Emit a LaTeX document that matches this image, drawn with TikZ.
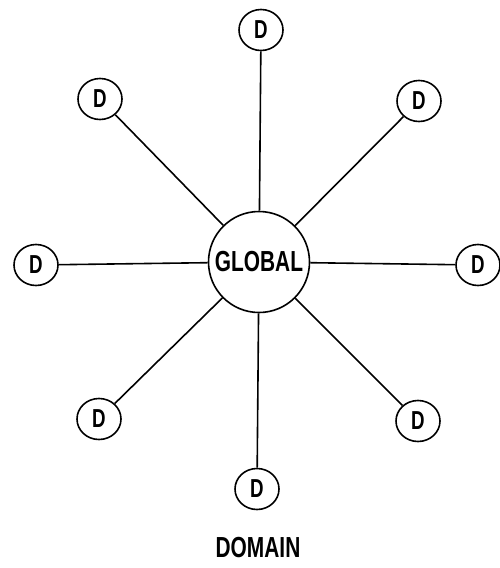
\documentclass[tikz,border=0pt]{standalone}
\usepackage{fontspec}
\usetikzlibrary{shapes.geometric}
\newfontfamily\condfont[FakeStretch=0.72]{Liberation Sans}
\begin{document}
\begin{tikzpicture}[x=1pt,y=-1pt,
  line width=1.6pt,
  dnode/.style={draw, ellipse, minimum width=44pt, minimum height=41pt, inner sep=0pt,
    font=\condfont\bfseries\fontsize{26}{26}\selectfont},
  gnode/.style={draw, circle, minimum size=101pt, inner sep=0pt,
    font=\condfont\bfseries\fontsize{29}{29}\selectfont},
  lbl/.style={font=\condfont\bfseries\fontsize{29}{29}\selectfont}]
\useasboundingbox (0,0) rectangle (499,568);
\node[gnode] (g) at (259,262) {GLOBAL};
\node[dnode] (t)  at (261,30)  {D};
\node[dnode] (tl) at (100,99)  {D};
\node[dnode] (tr) at (419,101) {D};
\node[dnode] (l)  at (36,265)  {D};
\node[dnode] (r)  at (478,265) {D};
\node[dnode] (bl) at (99,419)  {D};
\node[dnode] (br) at (418,421) {D};
\node[dnode] (b)  at (257,489) {D};
\node[lbl] (dom) at (258,548) {DOMAIN};
\foreach \n in {t,tl,tr,l,r,bl,br,b} \draw (g) -- (\n);
\end{tikzpicture}
\end{document}
